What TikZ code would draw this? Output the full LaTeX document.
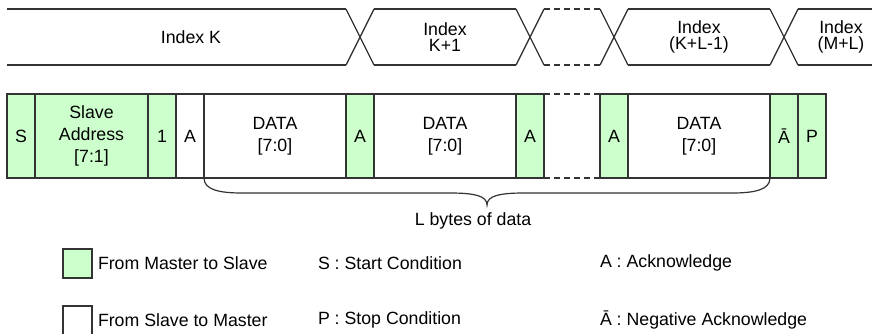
\documentclass[tikz,border=0pt]{standalone}
\usepackage{fontspec}
\setmainfont{Liberation Sans}
\usetikzlibrary{positioning}
\definecolor{mgreen}{HTML}{CCFFCC}
\definecolor{edge}{HTML}{333333}
\newcommand\fieldfont{\fontsize{13.3}{16.5}\selectfont}
\newcommand\indexfont{\fontsize{13.3}{12.5}\selectfont}

\tikzset{
  field/.style={draw=edge, line width=1pt, minimum height=63pt, inner sep=0pt,
    outer sep=0pt, align=center, font=\fieldfont},
  mfield/.style={field, fill=mgreen},
  sfield/.style={field, fill=white},
  narrow/.style={minimum width=21pt},
  wide/.style={minimum width=106.5pt},
  bus/.style={draw=edge, line width=1pt},
  label/.style={font=\fieldfont, inner sep=0pt, outer sep=0pt},
  indexlabel/.style={font=\indexfont, align=center},
}

\begin{document}
\begin{tikzpicture}[x=0.75pt, y=-0.75pt]
  \useasboundingbox (0,0) rectangle (872,333);

  % frame fields
  \node[mfield, narrow] (s) at (21,136) {S};
  \node[mfield, right=0pt of s, minimum width=84.75pt] (addr) {Slave\\Address\\{[7:1]}};
  \node[mfield, narrow, right=0pt of addr] (rw) {1};
  \node[sfield, narrow, right=0pt of rw] (a1) {A};
  \node[sfield, wide, right=0pt of a1] (d1) {DATA\\{[7:0]}};
  \node[mfield, narrow, right=0pt of d1] (a2) {A};
  \node[sfield, wide, right=0pt of a2] (d2) {DATA\\{[7:0]}};
  \node[mfield, narrow, right=0pt of d2] (a3) {A};
  \node[field, draw=none, minimum width=42pt, right=0pt of a3] (gap) {};
  \node[mfield, narrow, right=0pt of gap] (a4) {A};
  \node[sfield, wide, right=0pt of a4] (d3) {DATA\\{[7:0]}};
  \node[mfield, narrow, right=0pt of d3] (nak) {Ā};
  \node[mfield, narrow, right=0pt of nak] (p) {P};
  \draw[bus, dash pattern=on 4.5pt off 3pt] (gap.north west) -- (gap.north east);
  \draw[bus, dash pattern=on 4.5pt off 3pt] (gap.south west) -- (gap.south east);

  % index row
  \coordinate (hi) at (0,9);
  \coordinate (lo) at (0,65);
  \coordinate (hiR) at (872,9);
  \coordinate (loR) at (872,65);
  \foreach \n in {a2,a3,a4,nak} {
    \draw[bus] (\n.west |- hi) -- (\n.east |- lo);
    \draw[bus] (\n.west |- lo) -- (\n.east |- hi);
  }
  \draw[bus] (s.west |- hi) -- (a2.west |- hi);
  \draw[bus] (s.west |- lo) -- (a2.west |- lo);
  \draw[bus] (a2.east |- hi) -- (a3.west |- hi);
  \draw[bus] (a2.east |- lo) -- (a3.west |- lo);
  \draw[bus, dash pattern=on 4.5pt off 3pt] (a3.east |- hi) -- (a4.west |- hi);
  \draw[bus, dash pattern=on 4.5pt off 3pt] (a3.east |- lo) -- (a4.west |- lo);
  \draw[bus] (a4.east |- hi) -- (nak.west |- hi);
  \draw[bus] (a4.east |- lo) -- (nak.west |- lo);
  \draw[bus] (nak.east |- hi) -- (hiR);
  \draw[bus] (nak.east |- lo) -- (loR);
  \node[indexlabel] (ik) at (191,37) {Index K};
  \node[indexlabel] (ik1) at (445,37) {Index\\K+1};
  \node[indexlabel] (ikl) at (699,37) {Index\\(K+L-1)};
  \node[indexlabel] (iml) at (841,37) {Index\\(M+L)};

  % brace under the data bytes
  \coordinate (tip) at (487,205);
  \draw[bus, line width=0.9pt] (d1.south west) .. controls +(0,12) and +(-22,0) .. (242,193)
    -- (450,193) .. controls +(25,0) and +(0,-9) .. (tip)
    .. controls +(0,-9) and +(-25,0) .. (524,193)
    -- (732,193) .. controls +(22,0) and +(0,12) .. (d3.south east);
  \node[label] (lbytes) at (473,221) {L bytes of data};

  % legend
  \node[mfield, minimum width=21.75pt, minimum height=21.75pt] (mkey) at (77.5,263.5) {};
  \node[sfield, minimum width=21.75pt, minimum height=21.75pt] (skey) at (77.5,320.5) {};
  \node[label, right=4.5pt of mkey] (mtxt) {From Master to Slave};
  \node[label, right=4.5pt of skey] (stxt) {From Slave to Master};
  \node[label, anchor=west] (startkey) at (318,263) {S : Start Condition};
  \node[label, anchor=west] (stopkey) at (318,320) {P : Stop Condition};
  \node[label, anchor=west] (ackkey) at (600,263) {A : Acknowledge};
  \node[label, anchor=west] (nakkey) at (600,320) {Ā : Negative Acknowledge};
\end{tikzpicture}
\end{document}
